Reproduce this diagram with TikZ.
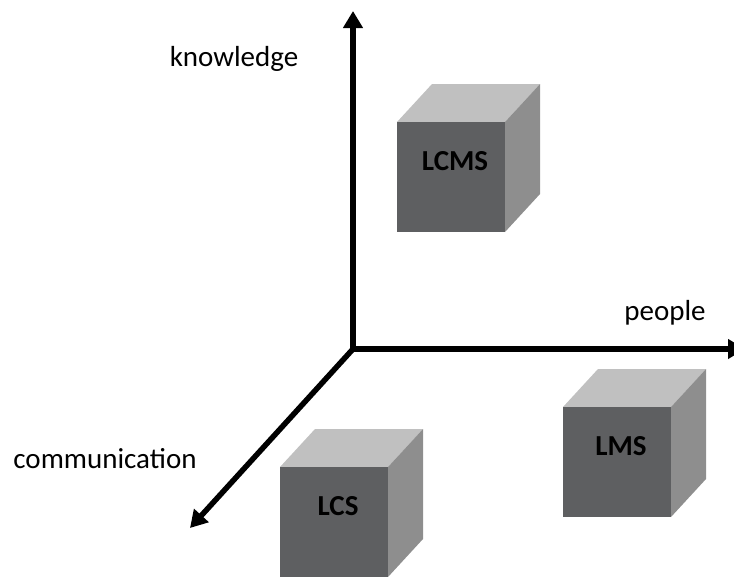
\documentclass[tikz,border=0pt]{standalone}
\usepackage{fontspec}
\setmainfont{Carlito}
\usetikzlibrary{arrows.meta}

\definecolor{frontgray}{HTML}{5E5F61}
\definecolor{topgray}{HTML}{C0C0C0}
\definecolor{sidegray}{HTML}{8E8E8E}

\tikzset{
  axis/.style={line width=5.5pt, -{Triangle[length=17pt,width=19pt]}},
  axislabel/.style={anchor=base, font=\fontsize{29}{35}\selectfont},
  boxlabel/.style={anchor=base, font=\fontsize{29}{35}\selectfont\bfseries},
}

% #1 node name, (#2,#3) top left corner of the front face, #4 text
\newcommand{\sysbox}[4]{%
  \fill[topgray] (#2,#3) -- ++(35,-38) -- ++(108,0) -- ++(-35,38) -- cycle;
  \fill[sidegray] (#2+108,#3) -- ++(35,-38) -- ++(0,110) -- ++(-35,38) -- cycle;
  \fill[frontgray] (#2,#3) rectangle ++(108,110);
  \node[boxlabel] (#1) at (#2+58,#3+48) {#4};
}

\begin{document}
\begin{tikzpicture}[x=1pt, y=-1pt]

\clip (0,0) rectangle (734,576);

\coordinate (O) at (353,349);
\coordinate (knowtip) at (353,11);
\coordinate (peopletip) at (745,349);
\coordinate (commtip) at (190,528);

\draw[axis] (O) -- (knowtip);
\draw[axis] (O) -- (peopletip);
\draw[axis] (O) -- (commtip);

\node[axislabel] (know) at (234,66) {knowledge};
\node[axislabel] (people) at (665,320) {people};
\node[axislabel] (comm) at (105,468) {communication};

\sysbox{lcms}{397}{122}{LCMS}
\sysbox{lms}{563}{407}{LMS}
\sysbox{lcs}{280}{467}{LCS}

\end{tikzpicture}
\end{document}
